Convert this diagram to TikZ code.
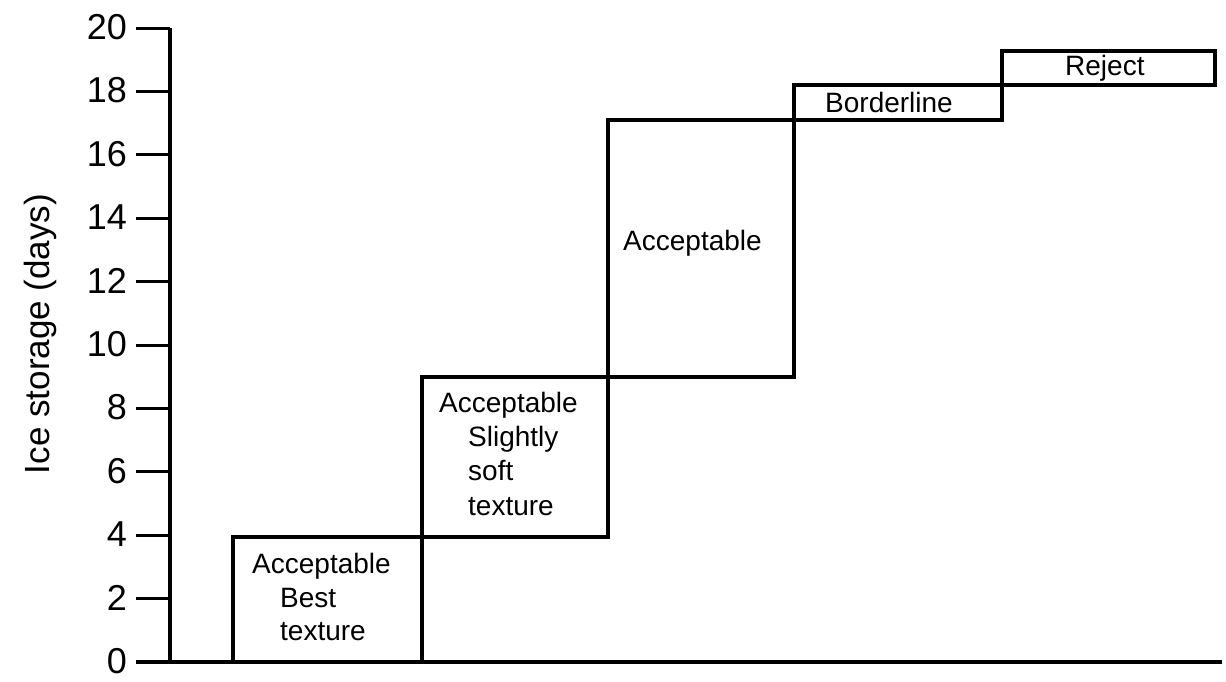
\documentclass[tikz,border=0pt]{standalone}
\usepackage{fontspec}
\setmainfont{Liberation Sans}
\begin{document}
\begin{tikzpicture}[x=1pt,y=-1pt,
  axisline/.style={line width=3.8pt},
  tickline/.style={line width=3pt},
  boxline/.style={line width=3.4pt},
  ticklabel/.style={anchor=east,inner sep=0pt,font=\fontsize{36}{40}\selectfont},
  boxtext/.style={anchor=base west,inner sep=0pt,font=\fontsize{28}{34}\selectfont},
  axislabel/.style={inner sep=0pt,font=\fontsize{35}{40}\selectfont,rotate=90}]
\useasboundingbox (0,0) rectangle (1226,681);
% boxes
\draw[boxline] (233,662) rectangle (422,537);
\draw[boxline] (422,537) rectangle (608,377);
\draw[boxline] (608,377) rectangle (794,120);
\draw[boxline] (794,120) rectangle (1002,85);
\draw[boxline] (1002,85) rectangle (1215,51);
% axes
\coordinate (yb) at (170,662);
\coordinate (yt) at (170,28);
\coordinate (xl) at (136,662);
\coordinate (xr) at (1222,662);
\draw[axisline] (yb) -- (yt);
\draw[axisline] (xl) -- (xr);
% ticks and labels
\foreach \v in {0,2,...,20}{
  \pgfmathsetmacro{\yy}{662-31.7*\v}
  \coordinate (t\v) at (136,\yy);
  \coordinate (u\v) at (170,\yy);
  \draw[tickline] (t\v) -- (u\v);
  \node[ticklabel] (l\v) at (127,\yy-1) {\v};
}
\node[axislabel] (ylab) at (40,334) {Ice storage (days)};
% box texts
\node[boxtext] (a1) at (252,573) {Acceptable};
\node[boxtext] (a2) at (280,607) {Best};
\node[boxtext] (a3) at (280,640) {texture};
\node[boxtext] (b1) at (439,412) {Acceptable};
\node[boxtext] (b2) at (468,446) {Slightly};
\node[boxtext] (b3) at (468,480) {soft};
\node[boxtext] (b4) at (468,515) {texture};
\node[boxtext] (c1) at (623,250) {Acceptable};
\node[boxtext] (d1) at (825,112) {Borderline};
\node[boxtext] (e1) at (1065,75) {Reject};
\end{tikzpicture}
\end{document}
